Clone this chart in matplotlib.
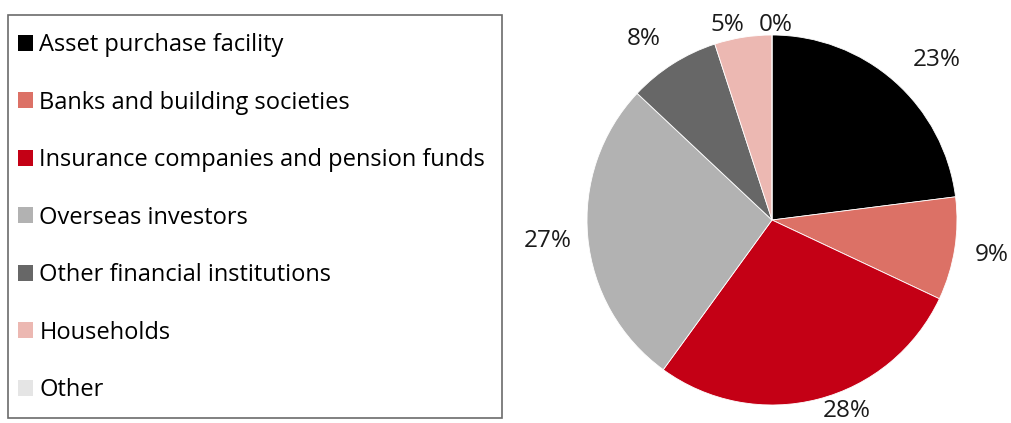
import numpy as np
import matplotlib.pyplot as plt
from matplotlib.patches import Rectangle

# Holdings breakdown: legend panel on the left, pie on the right
categories = [
    "Asset purchase facility",
    "Banks and building societies",
    "Insurance companies and pension funds",
    "Overseas investors",
    "Other financial institutions",
    "Households",
    "Other",
]
shares = [23, 9, 28, 27, 8, 5, 0]
colors = ["#000000", "#dc7166", "#c40015", "#b2b2b2", "#676767", "#ecb8b2", "#e5e5e5"]
# label placement: distance from centre (radii) and turn off the mid-angle (deg)
label_dist = [1.24, 1.2, 1.11, 1.22, 1.2, 1.1, 1.08]
label_turn = [-4.5, 0, 7, 0, 3, 0, 0]

plt.rcParams["font.family"] = ["Open Sans", "DejaVu Sans"]

W, H = 1011, 423
fig = plt.figure(figsize=(W / 100, H / 100), dpi=100)

cx, cy, r = 772, 220, 185
ax = fig.add_axes([(cx - r) / W, (H - cy - r) / H, 2 * r / W, 2 * r / H])
wedges, texts, autotexts = ax.pie(
    shares,
    colors=colors,
    startangle=90,
    counterclock=False,
    radius=1,
    autopct="%.0f%%",
    pctdistance=1.18,
    wedgeprops=dict(edgecolor="white", linewidth=0.6),
    textprops=dict(fontsize=17.5, color="#1a1a1a"),
)
ax.set_xlim(-1, 1)
ax.set_ylim(-1, 1)
ax.set_aspect("equal")

for w, t, d, turn in zip(wedges, autotexts, label_dist, label_turn):
    ang = np.deg2rad((w.theta1 + w.theta2) / 2 + turn)
    t.set_position((d * np.cos(ang), d * np.sin(ang)))
# keep the zero and small slices from colliding at the top
autotexts[6].set_position((0.02, 1.055))
autotexts[5].set_position((-0.24, 1.055))

# legend box drawn separately so the padding can differ per side
fig.patches.append(Rectangle((8 / W, (H - 418) / H), 494 / W, 403 / H,
                             transform=fig.transFigure, fill=False,
                             edgecolor="#6b6b6b", linewidth=1.2))
leg = fig.legend(
    wedges,
    categories,
    loc="upper left",
    bbox_to_anchor=(18 / W, 1 - 33 / H),
    borderaxespad=0,
    borderpad=0,
    fontsize=17,
    frameon=False,
    handlelength=0.65,
    handleheight=0.65,
    handletextpad=0.25,
    labelspacing=1.42,
)
for h in leg.legend_handles:
    h.set_edgecolor("none")

fig.savefig("out.png", dpi=100)
